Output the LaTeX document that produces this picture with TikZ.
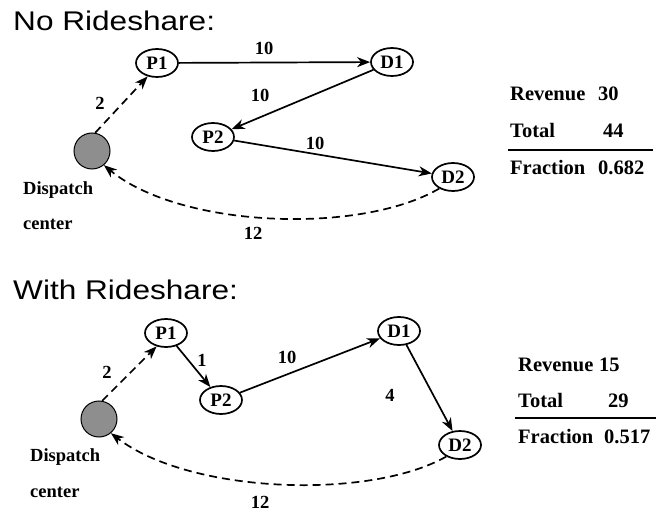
\documentclass[tikz,border=0pt]{standalone}
\usepackage{fontspec}
\setmainfont{Liberation Serif}
\newfontfamily\titlefont[FakeStretch=1.17]{Liberation Sans}
\usetikzlibrary{shapes.geometric,arrows.meta}
\definecolor{dcgray}{HTML}{8E8E8E}
\tikzset{
  loc/.style={ellipse,draw,line width=1.7pt,minimum width=42pt,minimum height=28pt,inner sep=0pt,font=\fontsize{19}{22}\selectfont\bfseries},
  lbl/.style={inner sep=0pt,font=\fontsize{18.5}{21}\selectfont\bfseries},
  tbl/.style={inner sep=0pt,anchor=base west,font=\fontsize{20.5}{24}\selectfont\bfseries},
  ttl/.style={inner sep=0pt,anchor=base west,font=\titlefont\fontsize{27}{31}\selectfont},
  depot/.style={circle,draw,fill=dcgray,line width=1pt,minimum size=36pt,inner sep=0pt},
  edgeline/.style={line width=1.7pt,-{Stealth[length=13pt,width=10pt,inset=4pt]}},
  dashline/.style={edgeline,dash pattern=on 8pt off 5pt}
}
\begin{document}
\begin{tikzpicture}[x=1pt,y=-1pt]
\useasboundingbox (0,0) rectangle (656,513);
% ---------- No Rideshare ----------
\node[ttl] (t1) at (13,31) {No Rideshare:};
\node[loc] (P1a) at (157,63) {P1};
\node[loc] (D1a) at (392,62) {D1};
\node[loc] (P2a) at (213,137) {P2};
\node[loc] (D2a) at (453,177) {D2};
\node[depot] (dca) at (92,151) {};
\node[lbl,anchor=west] (dtxa) at (23,190) {Dispatch};
\node[lbl,anchor=west] (ctxa) at (23,224) {center};
\draw[edgeline] (P1a) -- (D1a);
\draw[edgeline] (D1a) -- (P2a);
\draw[edgeline] (P2a) -- (D2a);
\draw[dashline] (dca.80) -- (P1a.-125);
\draw[dashline] (D2a.-140) .. controls (360,235) and (180,228) .. (dca.-50);
\node[lbl] (la1) at (100,103) {2};
\node[lbl] (la2) at (264,48) {10};
\node[lbl] (la3) at (260,95) {10};
\node[lbl] (la4) at (315,143) {10};
\node[lbl] (la5) at (253,233) {12};
\node[tbl] (ra1) at (510,101) {Revenue};
\node[tbl] (ra2) at (598,101) {30};
\node[tbl] (ta1) at (510,138) {Total};
\node[tbl] (ta2) at (603,138) {44};
\coordinate (lna1) at (508,150);
\coordinate (lna2) at (653,150);
\draw[line width=1.6pt] (lna1) -- (lna2);
\node[tbl] (fa1) at (510,175) {Fraction};
\node[tbl] (fa2) at (598,175) {0.682};
% ---------- With Rideshare ----------
\node[ttl] (t2) at (13,299) {With Rideshare:};
\node[loc] (P1b) at (166,333) {P1};
\node[loc] (D1b) at (399,331) {D1};
\node[loc] (P2b) at (221,400) {P2};
\node[loc] (D2b) at (460,445) {D2};
\node[depot] (dcb) at (99,419) {};
\node[lbl,anchor=west] (dtxb) at (30,457) {Dispatch};
\node[lbl,anchor=west] (ctxb) at (30,492) {center};
\draw[edgeline] (P1b) -- (P2b);
\draw[edgeline] (P2b) -- (D1b);
\draw[edgeline] (D1b) -- (D2b);
\draw[dashline] (dcb.80) -- (P1b.-125);
\draw[dashline] (D2b.-140) .. controls (370,500) and (190,494) .. (dcb.-50);
\node[lbl] (lb1) at (107,372) {2};
\node[lbl] (lb2) at (202,360) {1};
\node[lbl] (lb3) at (287,357) {10};
\node[lbl] (lb4) at (390,395) {4};
\node[lbl] (lb5) at (260,502) {12};
\node[tbl] (rb1) at (518,371) {Revenue};
\node[tbl] (rb2) at (599,371) {15};
\node[tbl] (tb1) at (518,407) {Total};
\node[tbl] (tb2) at (608,407) {29};
\coordinate (lnb1) at (515,418);
\coordinate (lnb2) at (656,418);
\draw[line width=1.6pt] (lnb1) -- (lnb2);
\node[tbl] (fb1) at (518,443) {Fraction};
\node[tbl] (fb2) at (604,443) {0.517};
\end{tikzpicture}
\end{document}
